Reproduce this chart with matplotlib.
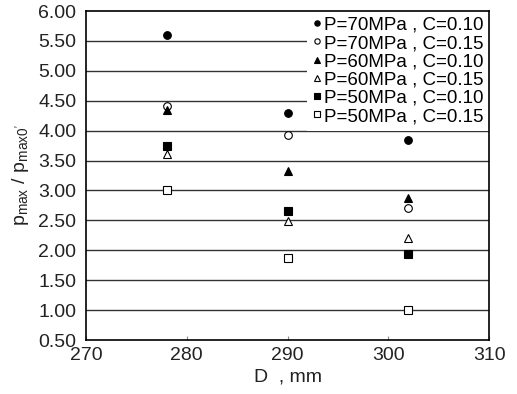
import numpy as np
import matplotlib
matplotlib.use("Agg")
import matplotlib.pyplot as plt

plt.rcParams['font.family'] = ['Liberation Sans', 'DejaVu Sans']
plt.rcParams['mathtext.fontset'] = 'custom'
plt.rcParams['mathtext.rm'] = 'Liberation Sans'

# diameters, mm
D = [278, 290, 302]

# p_max / p_max0' for each case
p70_c10 = [5.60, 4.30, 3.85]
p70_c15 = [4.42, 3.92, 2.70]
p60_c10 = [4.34, 3.32, 2.87]
p60_c15 = [3.61, 2.49, 2.20]
p50_c10 = [3.75, 2.66, 1.94]
p50_c15 = [3.00, 1.87, 1.00]

labels = ['P=70MPa , C=0.10', 'P=70MPa , C=0.15',
          'P=60MPa , C=0.10', 'P=60MPa , C=0.15',
          'P=50MPa , C=0.10', 'P=50MPa , C=0.15']
series = [p70_c10, p70_c15, p60_c10, p60_c15, p50_c10, p50_c15]
markers = ['o', 'o', '^', '^', 's', 's']
filled = [True, False, True, False, True, False]

fig = plt.figure(figsize=(5.17, 3.94), dpi=100)
ax = fig.add_axes([0.1663, 0.137, 0.7797, 0.835])

for yy in np.arange(1.0, 6.0, 0.5):
    ax.axhline(yy, color='#333333', lw=1.0, zorder=1)

for vals, lab, m, f in zip(series, labels, markers, filled):
    ax.plot(D, vals, linestyle='none', marker=m, markersize=5.5,
            markerfacecolor='black' if f else 'white',
            markeredgecolor='black', markeredgewidth=0.8,
            label=lab, zorder=3)

ax.set_xlim(270, 310)
ax.set_ylim(0.5, 6.0)
ax.set_xticks([270, 280, 290, 300, 310])
ax.set_yticks(np.arange(0.5, 6.01, 0.5))
ax.set_yticklabels(['%.2f' % v for v in np.arange(0.5, 6.01, 0.5)])
ax.tick_params(axis='y', length=0, labelsize=14, pad=7, colors='#222222')
ax.tick_params(axis='x', direction='in', length=3, labelsize=14,
               labelcolor='#222222', color='#888888', pad=5)
for s in ax.spines.values():
    s.set_linewidth(1.2)
    s.set_zorder(5)

ax.set_xlabel('D  , mm', fontsize=14, color='#222222', labelpad=3)
ax.set_ylabel(r"p$_{\mathrm{max}}$ / p$_{\mathrm{max0'}}$", fontsize=14,
              color='#222222', labelpad=5)

leg = ax.legend(loc='upper right', fontsize=13.5, frameon=True, fancybox=False,
                framealpha=1, edgecolor='white', borderpad=0.3, labelspacing=0.06,
                handlelength=0.45, handletextpad=0.15, borderaxespad=0.0,
                markerscale=0.7)
leg.get_frame().set_linewidth(0)
leg.set_zorder(4)

fig.savefig('out.png', dpi=100)
